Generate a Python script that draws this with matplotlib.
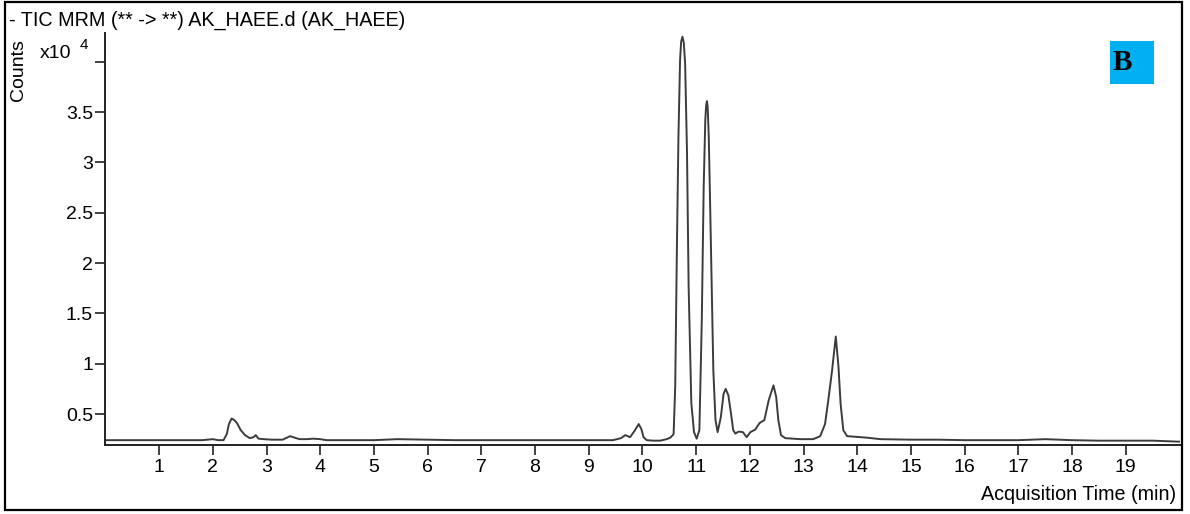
import matplotlib.pyplot as plt
from matplotlib.patches import Rectangle

plt.rcParams['font.family'] = ['Liberation Sans', 'DejaVu Sans']

# TIC trace: time in min, counts in units of 1e4
time_min = [0.0, 0.5, 1.0, 1.5, 1.8, 2.0, 2.1, 2.2, 2.26, 2.30, 2.35, 2.40, 2.45, 2.52,
            2.60, 2.69, 2.76, 2.80, 2.85, 2.95, 3.1, 3.3, 3.44, 3.55, 3.62, 3.75, 3.87,
            4.0, 4.12, 4.5, 5.0, 5.43, 6.0, 6.5, 7.0, 7.5, 8.0, 8.5, 9.0, 9.45, 9.60,
            9.68, 9.77, 9.85, 9.93, 9.98, 10.02, 10.08, 10.2, 10.33, 10.45, 10.52, 10.58,
            10.61, 10.64, 10.67, 10.70, 10.72, 10.745, 10.77, 10.795, 10.83, 10.86, 10.91,
            10.96, 11.01, 11.06, 11.105, 11.14, 11.17, 11.185, 11.20, 11.215, 11.235, 11.26,
            11.29, 11.32, 11.36, 11.40, 11.46, 11.51, 11.55, 11.60, 11.65, 11.69, 11.73,
            11.79, 11.87, 11.94, 12.01, 12.10, 12.18, 12.27, 12.35, 12.44, 12.49, 12.53,
            12.58, 12.66, 12.94, 13.18, 13.31, 13.40, 13.46, 13.53, 13.60, 13.65, 13.69,
            13.74, 13.81, 14.18, 14.43, 15.0, 15.5, 16.0, 16.5, 17.0, 17.5, 18.0, 18.5,
            19.0, 19.5, 20.0]
counts_e4 = [0.24, 0.24, 0.24, 0.24, 0.24, 0.25, 0.24, 0.24, 0.30, 0.40, 0.455, 0.44, 0.41, 0.34,
             0.29, 0.26, 0.27, 0.29, 0.255, 0.25, 0.245, 0.245, 0.28, 0.26, 0.25, 0.25, 0.255,
             0.25, 0.24, 0.24, 0.24, 0.25, 0.245, 0.24, 0.24, 0.24, 0.24, 0.24, 0.24, 0.24, 0.26,
             0.29, 0.27, 0.33, 0.40, 0.35, 0.27, 0.24, 0.235, 0.235, 0.25, 0.265, 0.30,
             0.77, 2.09, 3.25, 4.01, 4.20, 4.25, 4.19, 3.98, 3.09, 1.76, 0.61,
             0.32, 0.255, 0.34, 1.43, 2.75, 3.42, 3.56, 3.61, 3.55, 3.25, 2.59,
             1.76, 0.93, 0.44, 0.32, 0.47, 0.70, 0.75, 0.685, 0.50, 0.34, 0.305,
             0.325, 0.32, 0.27, 0.32, 0.345, 0.41, 0.44, 0.635, 0.785, 0.67, 0.44,
             0.29, 0.26, 0.25, 0.25, 0.28, 0.40, 0.635, 0.93, 1.27, 0.97, 0.60,
             0.34, 0.28, 0.265, 0.25, 0.245, 0.245, 0.24, 0.24, 0.24, 0.25, 0.24, 0.235,
             0.235, 0.235, 0.225]

x_ticks = list(range(1, 20))
y_ticks = [0.5, 1, 1.5, 2, 2.5, 3, 3.5, 4]
y_tick_labels = ['0.5', '1', '1.5', '2', '2.5', '3', '3.5', '']

W, H = 1190, 514
fig = plt.figure(figsize=(W / 100, H / 100), dpi=100)
ax = fig.add_axes([105.4 / W, 1 - 445 / H, (1179.5 - 105.4) / W, (445 - 33) / H])

ax.plot(time_min, counts_e4, color='#3c3c3c', lw=1.4)
ax.set_xlim(0, 20)
ax.set_ylim(0.192, 4.287)

ax.set_xticks(x_ticks)
ax.set_yticks(y_ticks)
ax.set_yticklabels(y_tick_labels)
ax.tick_params(axis='both', labelsize=14, color='#222222', length=7, width=1.2)
ax.tick_params(axis='x', pad=3)
ax.tick_params(axis='y', pad=2)
for s in ['top', 'right']:
    ax.spines[s].set_visible(False)
for s in ['left', 'bottom']:
    ax.spines[s].set_linewidth(1.4)
    ax.spines[s].set_color('#222222')

# texts in pixel positions
def fx(px):
    return px / W

def fy(py):
    return 1 - py / H

fig.text(fx(9), fy(20), '- TIC MRM (** -> **) AK_HAEE.d (AK_HAEE)', fontsize=14.2,
         ha='left', va='center')
fig.text(fx(18), fy(70), 'Counts', fontsize=14, rotation=90, ha='center', va='center')
fig.text(fx(40), fy(53), 'x10', fontsize=14, ha='left', va='center')
fig.text(fx(80), fy(45), '4', fontsize=11, ha='left', va='center')
fig.text(fx(1176), fy(494), 'Acquisition Time (min)', fontsize=14.2, ha='right', va='center')

# panel letter box
fig.patches.append(Rectangle((fx(1110), fy(84)), (1154 - 1110) / W, (84 - 41) / H,
                             transform=fig.transFigure, facecolor='#00B0F0',
                             edgecolor='none'))
fig.text(fx(1113), fy(63), 'B', fontsize=21, fontweight='bold', family='Liberation Serif',
         ha='left', va='center')

# outer frame
fig.patches.append(Rectangle((fx(5), fy(510)), (1182 - 5) / W, (510 - 1.5) / H,
                             transform=fig.transFigure, facecolor='none',
                             edgecolor='black', lw=1.6))

fig.savefig('out.png', dpi=100)
